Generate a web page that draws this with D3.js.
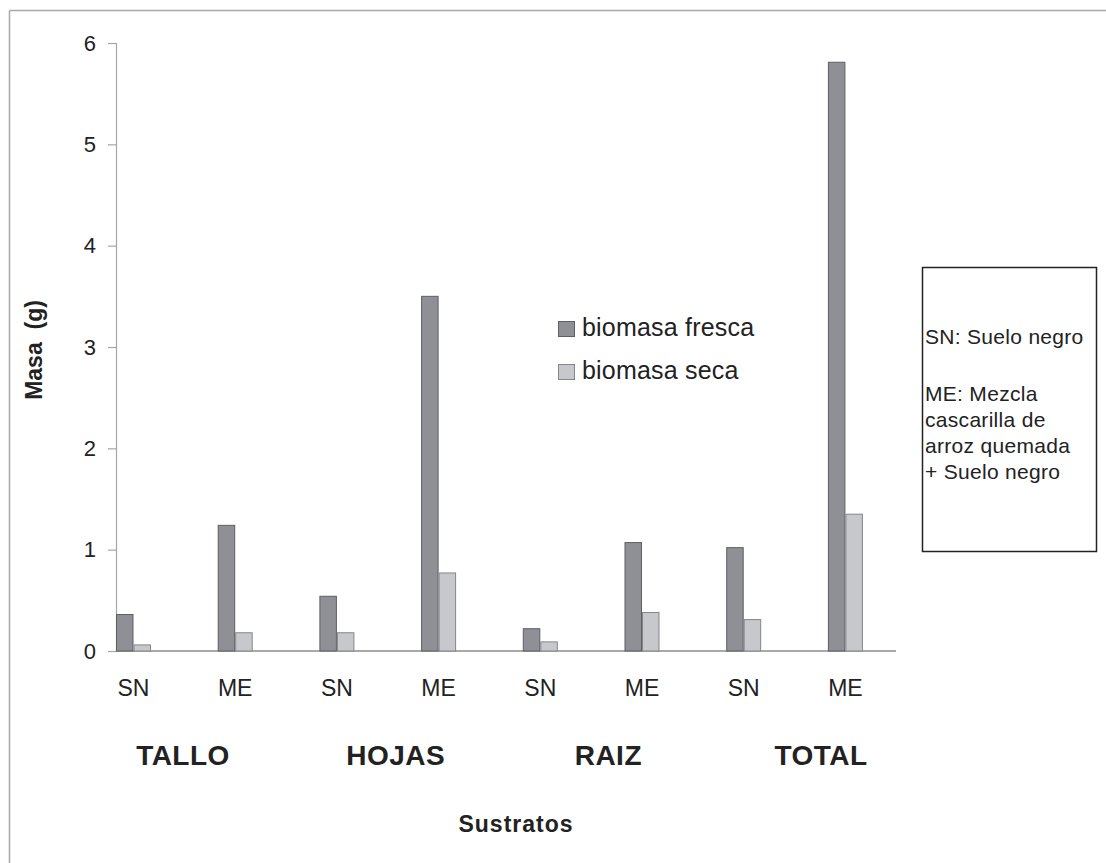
<!DOCTYPE html>
<html>
<head>
<meta charset="utf-8">
<script src="https://cdn.jsdelivr.net/npm/d3@7"></script>
<style>
  html, body { margin: 0; padding: 0; background: #fff; }
  svg { display: block; font-family: "Liberation Sans", Arial, sans-serif; }
</style>
</head>
<body>
<svg id="chart" width="1106" height="863"></svg>
<script>
// ---- data ----
const categories = ["SN", "ME", "SN", "ME", "SN", "ME", "SN", "ME"];
const groups = ["TALLO", "HOJAS", "RAIZ", "TOTAL"];
const seriesNames = ["biomasa fresca", "biomasa seca"];
const fresca = [0.36, 1.24, 0.54, 3.50, 0.22, 1.07, 1.02, 5.81];
const seca   = [0.06, 0.18, 0.18, 0.77, 0.09, 0.38, 0.31, 1.35];
const yTicks = [0, 1, 2, 3, 4, 5, 6];
const noteLines = ["SN: Suelo negro", "", "ME: Mezcla", "cascarilla de", "arroz quemada", "+ Suelo negro"];

// ---- layout ----
const svg = d3.select("#chart");
const W = 1106, H = 863;
const plotLeft = 116, plotRight = 896, plotTop = 43, plotBottom = 651;
const colors = { "biomasa fresca": "#8f9095", "biomasa seca": "#c7c8cb" };
const strokes = { "biomasa fresca": "#5e5f63", "biomasa seca": "#85868a" };

// outer frame (top and left edges visible)
svg.append("line").attr("x1", 9.5).attr("x2", W).attr("y1", 10.5).attr("y2", 10.5)
  .attr("stroke", "#a8a8a8").attr("stroke-width", 1.5);
svg.append("line").attr("x1", 9.5).attr("x2", 9.5).attr("y1", 10.5).attr("y2", H)
  .attr("stroke", "#a8a8a8").attr("stroke-width", 1.5);

// scales
const y = d3.scaleLinear().domain([0, 6]).range([plotBottom, plotTop]);
const idx = d3.range(categories.length);
const x0 = d3.scaleBand().domain(idx).range([plotLeft, plotLeft + 8 * 101.7]).padding(0);
const x1 = d3.scaleBand().domain(seriesNames).range([0, 35]).padding(0);

// y axis
const yAxis = d3.axisLeft(y).tickValues(yTicks).tickSize(8).tickPadding(12).tickFormat(d3.format("d"));
const gy = svg.append("g").attr("transform", `translate(${plotLeft},0)`).call(yAxis);
gy.select(".domain").attr("stroke", "#a6a6a6").attr("stroke-width", 1.2);
gy.selectAll(".tick line").attr("stroke", "#a6a6a6").attr("stroke-width", 1.2);
gy.selectAll(".tick text").attr("font-size", 22).attr("fill", "#222")
  .attr("font-family", "Liberation Sans, Arial, sans-serif");

// x axis baseline
svg.append("line").attr("x1", plotLeft).attr("x2", plotRight)
  .attr("y1", y(0)).attr("y2", y(0))
  .attr("stroke", "#8c8c8c").attr("stroke-width", 1.5);

// bars
const rows = idx.map(i => ({ i, values: [
  { s: "biomasa fresca", v: fresca[i] },
  { s: "biomasa seca", v: seca[i] }
]}));
const gBars = svg.append("g");
rows.forEach(r => {
  gBars.selectAll(null).data(r.values).enter().append("rect")
    .attr("x", d => x0(r.i) + x1(d.s) + 0.5)
    .attr("y", d => y(d.v))
    .attr("width", x1.bandwidth() - 1)
    .attr("height", d => y(0) - y(d.v))
    .attr("fill", d => colors[d.s])
    .attr("stroke", d => strokes[d.s])
    .attr("stroke-width", 1);
});

// category labels (SN / ME)
svg.append("g").selectAll("text").data(idx).enter().append("text")
  .attr("x", i => x0(i) + 17.5)
  .attr("y", 696)
  .attr("text-anchor", "middle")
  .attr("font-size", 23)
  .attr("fill", "#222")
  .text(i => categories[i]);

// group labels
const xg = d3.scalePoint().domain(groups).range([183, 821]);
svg.append("g").selectAll("text").data(groups).enter().append("text")
  .attr("x", d => xg(d))
  .attr("y", 765)
  .attr("text-anchor", "middle")
  .attr("font-size", 28)
  .attr("font-weight", "bold")
  .attr("fill", "#222")
  .attr("letter-spacing", 0.5)
  .text(d => d);

// axis titles
svg.append("text").attr("x", 516).attr("y", 832)
  .attr("text-anchor", "middle").attr("font-size", 23).attr("font-weight", "bold")
  .attr("letter-spacing", 1).attr("fill", "#222").text("Sustratos");
svg.append("text")
  .attr("transform", "translate(42,350) rotate(-90)")
  .attr("text-anchor", "middle").attr("font-size", 23).attr("font-weight", "bold")
  .attr("fill", "#222").attr("xml:space", "preserve").text("Masa  (g)");

// legend
const lg = svg.append("g").attr("transform", "translate(558,321)");
seriesNames.forEach((s, k) => {
  const g = lg.append("g").attr("transform", `translate(0,${k * 43})`);
  g.append("rect").attr("x", 0.5).attr("y", 0.5).attr("width", 16).attr("height", 15)
    .attr("fill", colors[s]).attr("stroke", strokes[s]).attr("stroke-width", 1);
  g.append("text").attr("x", 24).attr("y", 15).attr("font-size", 25)
    .attr("letter-spacing", 0.2)
    .attr("fill", "#222").text(s);
});

// notes box
svg.append("rect").attr("x", 922.5).attr("y", 267.5).attr("width", 174).attr("height", 284)
  .attr("fill", "none").attr("stroke", "#222").attr("stroke-width", 1.5);
const nb = [344, 372, 401, 427, 453, 479];
svg.append("g").selectAll("text").data(noteLines).enter().append("text")
  .attr("x", 925)
  .attr("y", (d, k) => nb[k])
  .attr("font-size", 21)
  .attr("letter-spacing", 0.3)
  .attr("fill", "#222")
  .text(d => d);
</script>
</body>
</html>
